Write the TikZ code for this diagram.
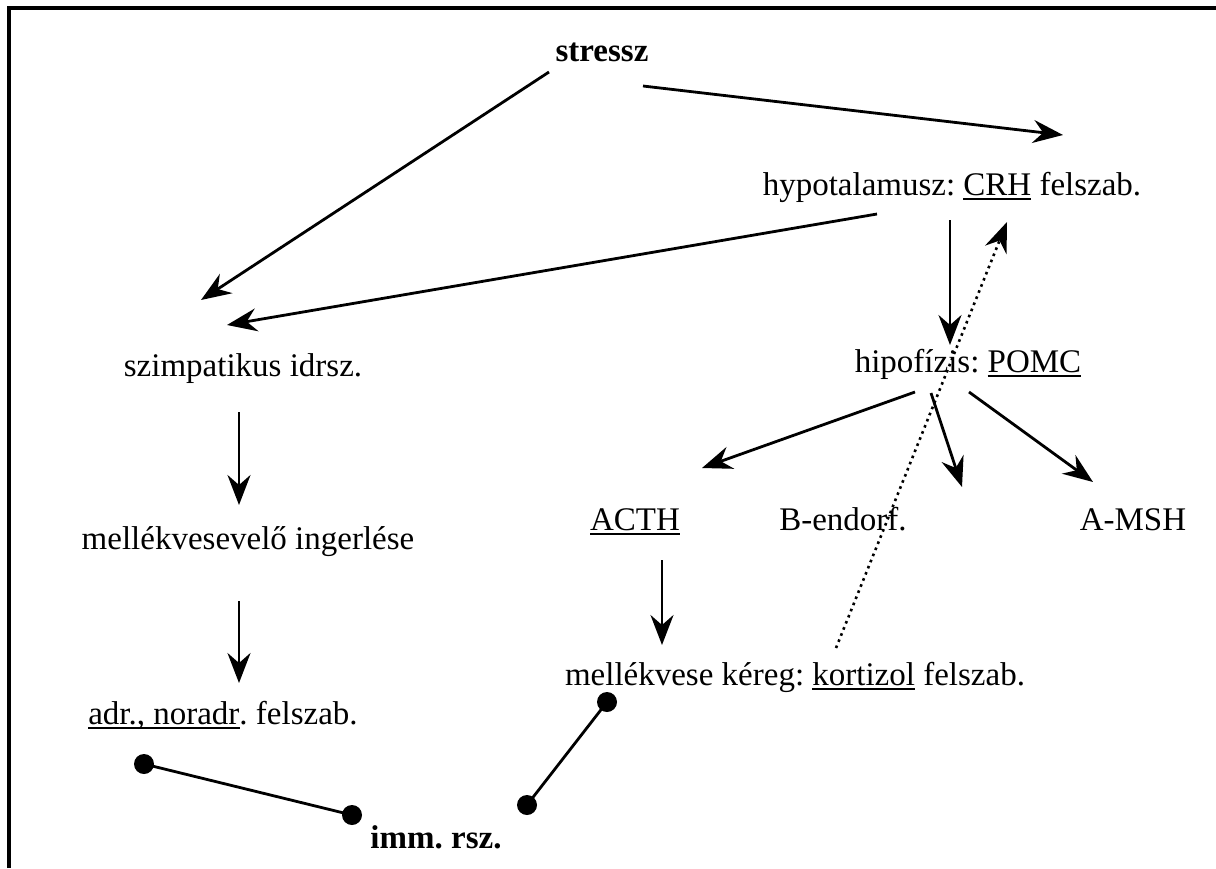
\documentclass[tikz,border=0pt]{standalone}
\usepackage{fontspec}
\setmainfont{Liberation Serif}
\usepackage{tikz}
\usetikzlibrary{arrows.meta}
\frenchspacing
\newcommand{\undl}[1]{\setbox0=\hbox{#1}\rlap{\rule[-2.6pt]{\wd0}{1pt}}\box0\relax}

\begin{document}
\begin{tikzpicture}[x=0.5pt,y=-0.5pt,
    lbl/.style={font=\fontsize{16.5}{19}\selectfont,anchor=base,inner sep=0pt},
    arr/.style={-{Stealth[length=15pt,width=11.5pt,inset=5pt]},line width=1.4pt},
    dot/.style={circle,fill,inner sep=0pt,minimum size=10pt},
    ballline/.style={line width=1.4pt}]
    \useasboundingbox (0,0) rectangle (1216,868);
    \draw[line width=1.6pt] (9,868) -- (9,8) -- (1216,8);

    \node[lbl,font=\fontsize{16.5}{19}\selectfont\bfseries] (stressz) at (602,61) {stressz};
    \node[lbl] (hypo) at (952,195) {hypotalamusz: \undl{CRH} felszab.};
    \node[lbl] (szimp) at (243,376) {szimpatikus idrsz.};
    \node[lbl] (hipo) at (968,372) {hipofízis: \undl{POMC}};
    \node[lbl] (mvv) at (248,549) {mellékvesevelő ingerlése};
    \node[lbl] (acth) at (635,530) {\undl{ACTH}};
    \node[lbl] (bend) at (843,530) {B-endorf.};
    \node[lbl] (amsh) at (1133,530) {A-MSH};
    \node[lbl] (kereg) at (795,685) {mellékvese kéreg: \undl{kortizol} felszab.};
    \node[lbl] (adr) at (223,724) {\undl{adr., noradr}. felszab.};
    \node[lbl,font=\fontsize{16.5}{19}\selectfont\bfseries] (imm) at (436,848) {imm. rsz.};

    \draw[arr] ([shift={(-53,11)}]stressz.base) -- ([shift={(-42,-76)}]szimp.base);
    \draw[arr] ([shift={(41,25)}]stressz.base) -- ([shift={(111,-60)}]hypo.base);
    \draw[arr] ([shift={(-75,19)}]hypo.base) -- ([shift={(-16,-51)}]szimp.base);
    \draw[arr] ([shift={(-2,25)}]hypo.base) -- ([shift={(-18,-27)}]hipo.base);
    \draw[arr,line width=1.3pt,dotted] ([shift={(41,-37)}]kereg.base) -- ([shift={(55,27)}]hypo.base);
    \draw[arr] ([shift={(-53,20)}]hipo.base) -- ([shift={(67,-62)}]acth.base);
    \draw[arr] ([shift={(-37,21)}]hipo.base) -- ([shift={(119,-43)}]bend.base);
    \draw[arr] ([shift={(1,20)}]hipo.base) -- ([shift={(-40,-48)}]amsh.base);
    \draw[arr] ([shift={(-4,36)}]szimp.base) -- ([shift={(-9,-44)}]mvv.base);
    \draw[arr] ([shift={(-9,52)}]mvv.base) -- ([shift={(16,-41)}]adr.base);
    \draw[arr] ([shift={(27,30)}]acth.base) -- ([shift={(-133,-40)}]kereg.base);

    \node[dot] (d1) at (144,764) {};
    \node[dot] (d2) at (352,815) {};
    \node[dot] (d3) at (527,805) {};
    \node[dot] (d4) at (607,702) {};
    \draw[ballline] (d1.center) -- (d2.center);
    \draw[ballline] (d3.center) -- (d4.center);
\end{tikzpicture}
\end{document}
